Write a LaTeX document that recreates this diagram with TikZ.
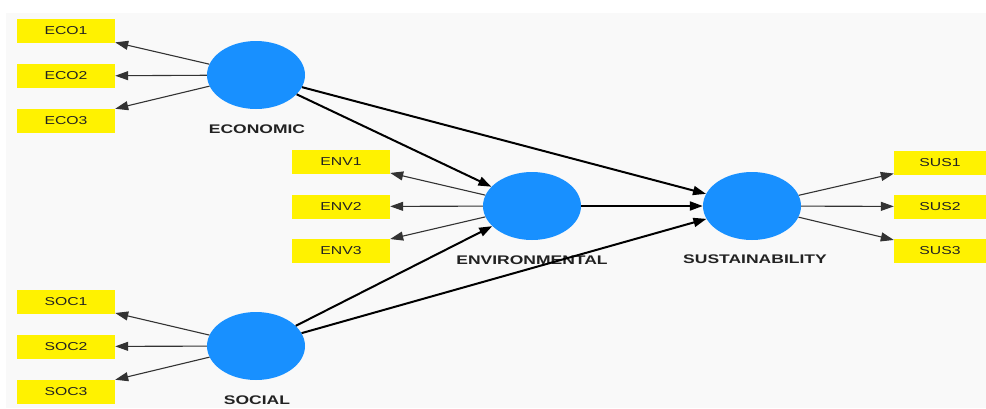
\documentclass[tikz,border=0pt]{standalone}
\usepackage{fontspec}
\setmainfont{Liberation Sans}
\newfontfamily\boxfont[FakeStretch=1.37]{Liberation Sans}
\newfontfamily\latentfont[FakeStretch=1.4]{Liberation Sans}
\usetikzlibrary{shapes.geometric,arrows.meta}
\definecolor{latentblue}{RGB}{24,144,255}
\definecolor{bgGray}{RGB}{249,249,249}
\definecolor{txtDark}{RGB}{34,34,34}
\tikzset{
  indicator/.style={rectangle, fill=yellow, minimum width=98pt, minimum height=24pt, inner sep=0pt,
    text=txtDark, font=\boxfont\fontsize{11.5}{13}\selectfont},
  latent/.style={ellipse, fill=latentblue, minimum width=98pt, minimum height=68pt, inner sep=0pt},
  latentlabel/.style={text=txtDark, inner sep=0pt, font=\latentfont\bfseries\fontsize{12.5}{14}\selectfont},
  loadarrow/.style={draw=black!80, line width=1.1pt, -{Triangle[length=13pt,width=9pt]}},
  structarrow/.style={draw=black, line width=2pt, -{Triangle[length=13pt,width=9pt]}}
}
\begin{document}
\begin{tikzpicture}[x=1pt, y=-1pt]
    % 背景
    \useasboundingbox (0,0) rectangle (986,408);
    \fill[white] (0,0) rectangle (986,408);
    \fill[bgGray] (6,13) rectangle (986,408);

    % 潜在変数
    \node[latent] (ECO) at (256, 75) {};
    \node[latent] (ENV) at (532, 206) {};
    \node[latent] (SUS) at (752, 206) {};
    \node[latent] (SOC) at (256, 346) {};
    \node[latentlabel] (lECO) at (257, 129.5) {ECONOMIC};
    \node[latentlabel] (lENV) at (532, 260) {ENVIRONMENTAL};
    \node[latentlabel] (lSUS) at (755, 259) {SUSTAINABILITY};
    \node[latentlabel] (lSOC) at (257, 400) {SOCIAL};

    % 指標
    \node[indicator] (ECO1) at (66, 31) {ECO1};
    \node[indicator] (ECO2) at (66, 76) {ECO2};
    \node[indicator] (ECO3) at (66, 120.5) {ECO3};
    \node[indicator] (ENV1) at (341, 161.5) {ENV1};
    \node[indicator] (ENV2) at (341, 206.5) {ENV2};
    \node[indicator] (ENV3) at (341, 250.5) {ENV3};
    \node[indicator, minimum width=92pt] (SUS1) at (940, 163) {SUS1};
    \node[indicator, minimum width=92pt] (SUS2) at (940, 206.5) {SUS2};
    \node[indicator, minimum width=92pt] (SUS3) at (940, 251) {SUS3};
    \node[indicator] (SOC1) at (66, 301.5) {SOC1};
    \node[indicator] (SOC2) at (66, 346.5) {SOC2};
    \node[indicator] (SOC3) at (66, 391.5) {SOC3};

    % エッジ（測定）
    \draw[loadarrow] (ECO) -- (ECO1);
    \draw[loadarrow] (ECO) -- (ECO2);
    \draw[loadarrow] (ECO) -- (ECO3);
    \draw[loadarrow] (ENV) -- (ENV1);
    \draw[loadarrow] (ENV) -- (ENV2);
    \draw[loadarrow] (ENV) -- (ENV3);
    \draw[loadarrow] (SUS) -- (SUS1);
    \draw[loadarrow] (SUS) -- (SUS2);
    \draw[loadarrow] (SUS) -- (SUS3);
    \draw[loadarrow] (SOC) -- (SOC1);
    \draw[loadarrow] (SOC) -- (SOC2);
    \draw[loadarrow] (SOC) -- (SOC3);

    % エッジ（構造）
    \draw[structarrow] (ECO) -- (ENV);
    \draw[structarrow] (ECO) -- (SUS);
    \draw[structarrow] (ENV) -- (SUS);
    \draw[structarrow] (SOC) -- (ENV);
    \draw[structarrow] (SOC) -- (SUS);
  \end{tikzpicture}
\end{document}
